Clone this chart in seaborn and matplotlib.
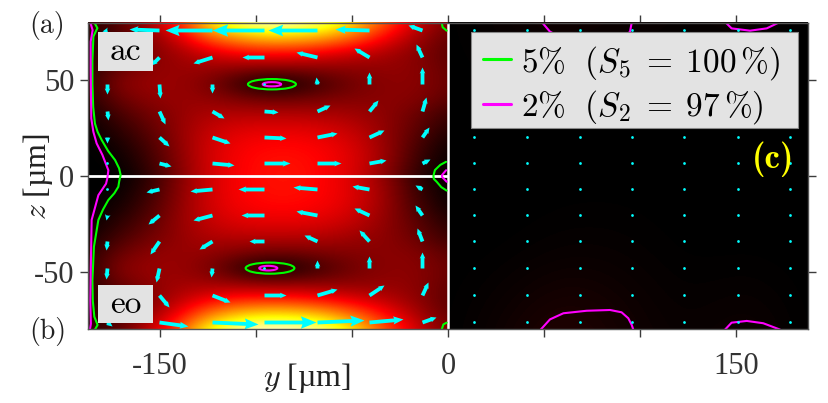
import warnings
import numpy as np
import pandas as pd
import matplotlib
matplotlib.use("Agg")
import matplotlib.pyplot as plt
from matplotlib.colors import LinearSegmentedColormap
from matplotlib.lines import Line2D
from matplotlib.patches import Ellipse, Rectangle
import seaborn as sns

warnings.filterwarnings("ignore")

# ---------- data ----------
grid_y_left = [-187.5, -171.9, -156.3, -140.6, -125.0, -109.4, -93.8, -78.1, -62.5, -46.9, -31.3, -15.6, 0.0]
grid_z_ac = [80, 72, 64, 56, 48, 40, 32, 24, 16, 8, 0]
grid_z_eo = [0, -8, -16, -24, -32, -40, -48, -56, -64, -72, -80]
field_ac = [
    [.06, .12, .24, .42, .72, .88, .95, .93, .85, .68, .47, .29, .17],
    [.05, .10, .19, .30, .50, .60, .66, .65, .60, .49, .35, .23, .14],
    [.05, .11, .18, .23, .30, .36, .38, .37, .33, .29, .24, .19, .13],
    [.05, .15, .20, .22, .22, .20, .19, .19, .20, .20, .21, .20, .14],
    [.06, .19, .22, .22, .18, .08, .00, .04, .11, .17, .20, .20, .15],
    [.05, .15, .20, .22, .21, .18, .16, .16, .18, .19, .20, .19, .13],
    [.02, .10, .16, .21, .25, .26, .26, .26, .25, .23, .20, .15, .08],
    [.01, .06, .13, .21, .28, .32, .33, .33, .31, .27, .20, .13, .05],
    [.00, .03, .10, .20, .30, .35, .37, .37, .35, .30, .21, .10, .02],
    [.00, .01, .08, .19, .30, .36, .385, .385, .36, .31, .21, .08, .01],
    [.00, .00, .06, .18, .30, .36, .39, .39, .36, .30, .19, .06, .00],
]
field_eo = [
    [.00, .00, .06, .18, .30, .36, .39, .39, .36, .30, .19, .06, .00],
    [.00, .01, .08, .19, .30, .36, .385, .385, .36, .31, .21, .08, .01],
    [.00, .03, .10, .20, .30, .35, .37, .37, .35, .30, .21, .10, .02],
    [.01, .06, .13, .21, .28, .32, .33, .33, .31, .27, .20, .13, .05],
    [.02, .10, .16, .21, .25, .26, .26, .26, .25, .22, .20, .15, .08],
    [.05, .15, .20, .22, .21, .18, .16, .16, .18, .19, .20, .19, .13],
    [.06, .19, .22, .22, .18, .08, .00, .04, .11, .17, .20, .20, .15],
    [.05, .15, .20, .23, .23, .21, .20, .20, .20, .20, .21, .20, .14],
    [.05, .11, .18, .26, .35, .40, .41, .40, .36, .31, .26, .20, .13],
    [.05, .10, .21, .35, .55, .67, .71, .70, .63, .51, .37, .24, .14],
    [.06, .13, .27, .48, .78, .92, .98, .96, .88, .70, .48, .30, .17],
]
grid_y_right = [0.0, 31.25, 62.5, 93.75, 125.0, 156.25, 187.5]
grid_z_right = [80, 40, 0, -40, -80]
field_right = [
    [.00, .02, .03, .02, .01, .02, .00],
    [.00, .00, .00, .00, .00, .00, .00],
    [.00, .00, .00, .00, .00, .00, .00],
    [.00, .00, .01, .01, .00, .00, .00],
    [.00, .03, .06, .03, .01, .03, .00],
]

arrow_y_left = [-177.6, -150.5, -122.9, -95.8, -68.2, -41.1, -13.5]
arrow_y_right = [13.5, 41.0, 69.0, 96.0, 123.0, 151.0, 178.0]
arrow_z = [76, 62, 48, 34, 20.5, 7, -7, -20.5, -34, -48, -62, -76]
arrow_u_left = [
    [-5, -30, -47, -52, -49, -34, -14],
    [-1, -8, -19, -22, -21, -15, -6],
    [0, 1, 0, 0, -1, 0, 0],
    [1, 6, 12, 14, 13, 9, 4],
    [0, 10, 18, 22, 20, 15, 7],
    [1, 12, 22, 26, 24, 17, 8],
    [0, -13, -22, -26, -24, -17, -7],
    [-1, -11, -19, -23, -21, -15, -7],
    [-1, -9, -13, -15, -13, -10, -5],
    [-1, -3, -1, 0, 0, 0, 0],
    [1, 10, 18, 22, 20, 15, 6],
    [5, 29, 46, 52, 47, 34, 14],
]
arrow_v_left = [
    [-1, 1, 0, 0, 0, 1, 5],
    [-6, -8, -6, 0, 5, 9, 13],
    [-10, -14, -9, 0, 7, 12, 17],
    [-9, -13, -7, -1, 6, 11, 14],
    [-6, -9, -6, -1, 4, 7, 10],
    [-1, -3, -2, 0, 0, 3, 4],
    [0, -3, -2, 0, 2, 3, 4],
    [-5, -9, -5, 0, 4, 7, 10],
    [-9, -13, -8, 0, 6, 11, 13],
    [-11, -14, -9, 0, 8, 12, 16],
    [-6, -12, -7, 0, 6, 10, 13],
    [-4, -4, -2, 0, 2, 3, 5],
]
arrow_u_right = [
    [.4, .3, .3, -.3, -.2, .2, .2],
    [.3, .2, .2, .2, .2, .2, .2],
    [.2, .2, .2, .2, .2, .2, .2],
    [.2, .2, .2, .2, .2, .2, .2],
    [.2, .2, .2, .2, .2, .2, .2],
    [.2, .2, .2, .2, .2, .2, .2],
    [.2, .2, .2, .2, .2, .2, .2],
    [.2, .2, .2, .2, .2, .2, .2],
    [.2, .2, .2, .2, .2, .2, .2],
    [.2, .2, .2, .2, .2, .2, .2],
    [.3, .2, .3, .2, .2, .3, .3],
    [.4, .3, .5, .4, .3, .5, .3],
]
arrow_v_right = [
    [.2, .2, .2, .2, .2, .2, .2],
    [.1, .1, .1, .1, .1, .1, .1],
    [.1, .1, .1, .1, .1, .1, .1],
    [.1, .1, .1, .1, .1, .1, .1],
    [.1, .1, .1, .1, .1, .1, .1],
    [.1, .1, .1, .1, .1, .1, .1],
    [.1, .1, .1, .1, .1, .1, .1],
    [.1, .1, .1, .1, .1, .1, .1],
    [.1, .1, .1, .1, .1, .1, .1],
    [.1, .1, .1, .1, .1, .1, .1],
    [.1, .1, .1, .1, .1, .1, .1],
    [.2, .1, .1, .1, .1, .1, .1],
]

contours_green = [
    ([-184.2, -182.6, -183.6, -184.7, -185.2, -185.2, -184.8, -183.9, -182.5, -180.4, -177.0, -173.4, -171.3, -170.5, -171.2, -171.7, -173.8, -176.9, -179.7, -182.1, -184.4, -185.2, -185.0, -184.2, -182.5, -183.9],
     [80, 77, 75, 72.6, 60, 48, 36, 27.4, 23, 18.8, 13, 8.3, 4, 0.5, -2.5, -5.6, -9, -12.5, -17.5, -22.9, -36.8, -54.2, -65, -73.3, -77.6, -80]),
    ([-1, -4, -6.8, -7.6, -7.4, -5.9, -3.5, -0.7], [7.4, 5.8, 3.1, 0.1, -1.5, -3, -5.8, -7.6]),
    ([-3.3, -2.8, -0.7], [80, 77.5, 75.7]),
    ([-3.3, -2.4, -0.7], [-80, -77.3, -76.4]),
]
contours_magenta = [
    ([-186.3, -185.1, -186.1, -186.1, -185.8, -184.7, -183.0, -180.0, -176.9, -177.4, -178.1, -182.1, -185.6, -186.1, -186.3, -186.0, -186.5],
     [80, 76, 70, 55, 30, 23, 17, 11, 3, -1, -4, -10, -22.9, -50, -65, -77, -80]),
    ([-1, -3.1, -3.1, -0.7], [3, 0.5, -0.5, -3]),
    ([49, 53.1, 60.1, 72.2, 84.4, 90.4, 94.8, 95.7], [80, 75.2, 71.5, 70.2, 69.8, 71, 75.2, 80]),
    ([144.6, 147.7, 157.3, 166, 172.4], [80, 76.9, 75.7, 76.9, 80]),
    ([48.3, 53.1, 60.1, 72.2, 84.4, 90.4, 93.9, 95.7, 96.5], [-80, -74.7, -71.5, -70.2, -69.8, -71, -74.1, -77.6, -80]),
    ([144.3, 147.7, 155.6, 164.2, 172.9], [-80, -76.4, -75.5, -76.7, -80]),
]
# centre y, centre z, half width, half height
spots_green = [(-91.7, 47.8, 12.5, 2.7), (-92.7, -48.0, 12.7, 2.9)]
spots_magenta = [(-91.7, 47.8, 4.8, 1.1), (-93.6, -48.0, 4.7, 1.2)]

xticks = [-150, -100, -50, 0, 50, 100, 150]
xtick_labels = ["-150", "", "", "0", "", "", "150"]
zticks = [-50, 0, 50]
ztick_labels = ["-50", "0", "50"]
legend_labels = [r"$5\%\ \ (S_5\;=\;100\,\%)$", r"$2\%\ \ (S_2\;=\;97\,\%)$"]

# ---------- style ----------
sns.set_theme(style="ticks")
plt.rcParams["mathtext.fontset"] = "cm"
plt.rcParams["axes.unicode_minus"] = False
GREEN, MAGENTA, CYAN = "#00ff00", "#ff00ff", "#00ffff"
BOX = "#e3e3e3"
DARK = "#3c3c3c"
heat_map = LinearSegmentedColormap.from_list(
    "hot0", [(0, "#000000"), (0.365, "#ff0000"), (0.746, "#ffff00"), (1, "#ffffff")])

W, H = 829, 403
fig = plt.figure(figsize=(W / 100, H / 100), dpi=100)
ax = fig.add_axes([88 / W, 1 - 329 / H, 720 / W, 306 / H])


def heat(values, ys, zs):
    dy = (ys[-1] - ys[0]) / (len(ys) - 1) / 2
    dz = abs(zs[-1] - zs[0]) / (len(zs) - 1) / 2
    im = ax.imshow(values, cmap=heat_map, vmin=0, vmax=1, aspect="auto", origin="upper",
                   interpolation="bicubic",
                   extent=(ys[0] - dy, ys[-1] + dy, zs[-1] - dz, zs[0] + dz), zorder=1)
    im.set_clip_path(Rectangle((ys[0], zs[-1]), ys[-1] - ys[0], zs[0] - zs[-1], transform=ax.transData))


heat(field_ac, grid_y_left, grid_z_ac)
heat(field_eo, grid_y_left, grid_z_eo)
heat(field_right, grid_y_right, grid_z_right)
ax.set_xlim(-187.5, 187.5)
ax.set_ylim(-79.7, 79.7)

ax.hlines(0, -187.5, 0, color="white", lw=2.0, zorder=2)
ax.vlines(0, -80, 80, color="white", lw=1.8, zorder=2)

for color, segs, spots in [(GREEN, contours_green, spots_green), (MAGENTA, contours_magenta, spots_magenta)]:
    for ys, zs in segs:
        frame = pd.DataFrame({"y": ys, "z": zs})
        sns.lineplot(data=frame, x="y", y="z", sort=False, estimator=None, color=color,
                     lw=1.5, ax=ax, zorder=3, legend=False)
    for cy, cz, hw, hh in spots:
        ax.add_patch(Ellipse((cy, cz), 2 * hw, 2 * hh, fill=False, edgecolor=color, lw=1.5, zorder=3))


def draw_arrows(ys, zs, us, vs):
    shaft = 3.8
    for i, z in enumerate(zs):
        for j, y in enumerate(ys):
            u, v = float(us[i][j]), float(vs[i][j])
            size = np.hypot(u, v)
            head_len = max(1.6, 0.30 * size / shaft)
            head_wid = max(1.5, 0.24 * size / shaft)
            ax.quiver(y, z, u, v, angles="xy", scale_units="xy", scale=1.92, pivot="tail",
                      color=CYAN, units="dots", width=shaft, headwidth=head_wid,
                      headlength=head_len, headaxislength=0.9 * head_len, minshaft=0.5,
                      minlength=0.8, zorder=4)


draw_arrows(arrow_y_left, arrow_z, arrow_u_left, arrow_v_left)
draw_arrows(arrow_y_right, arrow_z, arrow_u_right, arrow_v_right)

for (y0, z0, w, h), label, tz in [((-182.3, 54.8, 28.7, 20.2), "ac", 64.8), ((-182.3, -76.6, 28.7, 19.8), "eo", -66.7)]:
    ax.add_patch(Rectangle((y0, z0), w, h, facecolor=BOX, edgecolor="none", zorder=5))
    ax.text(y0 + w / 2, tz, label, family="cmr10", fontsize=24, color="black", ha="center",
            va="center", zorder=6)

ax.text(169.5, 8.6, "(c)", family="cmb10", fontsize=25, color="#ffff00", ha="center", va="center", zorder=6)
fig.text(47 / W, 1 - 25 / H, "(a)", family="cmr10", fontsize=20, color="#222222", ha="center", va="center")
fig.text(48 / W, 1 - 331 / H, "(b)", family="cmr10", fontsize=20, color="#222222", ha="center", va="center")

ax.set_xticks(xticks, xtick_labels, family="Liberation Serif", fontsize=22, color="#333333")
ax.set_yticks(zticks, ztick_labels, family="Liberation Serif", fontsize=22, color="#333333")
ax.tick_params(axis="both", which="major", direction="out", length=5.8, width=1.0, color=DARK,
               top=True, right=True, bottom=True, left=True, pad=4)
ax.tick_params(axis="x", pad=11)
for side in ax.spines.values():
    side.set_visible(True)
    side.set_color("#555555")
    side.set_linewidth(1.0)
    side.set_zorder(7)

ax.set_xlabel("$y$ [µm]", family="Liberation Serif", fontsize=23, color="#222222", va="center")
ax.set_ylabel("$z$ [µm]", family="Liberation Serif", fontsize=23, color="#222222", va="center")
ax.xaxis.set_label_coords((307 - 88) / 720, -(378 - 329) / 306)
ax.yaxis.set_label_coords(-(88 - 38) / 720, 0.5)

ax.add_patch(Rectangle((12, 25), 170.3, 50, facecolor=BOX, edgecolor="#888888", lw=0.8, zorder=8))
handles = [Line2D([], [], color=GREEN, lw=2.2), Line2D([], [], color=MAGENTA, lw=2.2)]
leg = ax.legend(handles, legend_labels, loc="upper left",
                bbox_to_anchor=((471 - 88) / 720, 1 - (32 - 23) / 306),
                prop={"size": 24}, frameon=False, borderpad=0.35, labelspacing=0.2,
                handlelength=0.85, handletextpad=0.3, borderaxespad=0)
leg.set_zorder(9)
for text in leg.get_texts():
    text.set_color("black")

fig.savefig("out.png", dpi=100, facecolor="white")
